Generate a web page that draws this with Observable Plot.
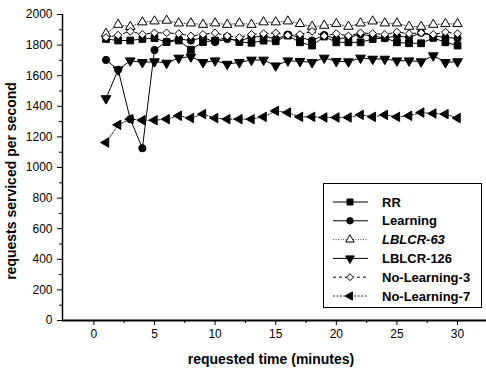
<!DOCTYPE html>
<html><head><meta charset="utf-8">
<script src="https://cdn.jsdelivr.net/npm/d3@7"></script>
<script src="https://cdn.jsdelivr.net/npm/@observablehq/plot@0.6"></script>
<style>
body{margin:0;background:#fff}
svg{font-family:"Liberation Sans",Arial,sans-serif}
</style>
</head><body><div id="chart"></div>
<script>
const minutes = d3.range(1, 31);
const seriesNames = ["RR", "Learning", "LBLCR-63", "LBLCR-126", "No-Learning-3", "No-Learning-7"];
const rr = [1840, 1830, 1830, 1840, 1845, 1820, 1830, 1770, 1820, 1830, 1850, 1820, 1815, 1829, 1825, 1862, 1818, 1797, 1856, 1818, 1818, 1818, 1840, 1847, 1818, 1812, 1812, 1847, 1818, 1797];
const learning = [1703, 1639, 1316, 1126, 1768, 1822, 1840, 1830, 1850, 1820, 1840, 1830, 1850, 1860, 1840, 1869, 1850, 1830, 1866, 1840, 1850, 1870, 1860, 1845, 1860, 1850, 1880, 1860, 1850, 1845];
const lblcr63 = [1875, 1934, 1920, 1950, 1956, 1961, 1943, 1943, 1934, 1943, 1934, 1943, 1934, 1950, 1950, 1956, 1939, 1921, 1928, 1939, 1921, 1943, 1956, 1943, 1943, 1921, 1921, 1934, 1939, 1939];
const lblcr126 = [1451, 1639, 1698, 1687, 1692, 1683, 1716, 1724, 1687, 1698, 1676, 1687, 1703, 1703, 1665, 1698, 1694, 1687, 1716, 1694, 1692, 1716, 1709, 1709, 1698, 1698, 1692, 1731, 1687, 1692];
const noLearning3 = [1850, 1865, 1890, 1870, 1880, 1880, 1875, 1860, 1870, 1880, 1860, 1850, 1870, 1875, 1880, 1865, 1870, 1890, 1860, 1875, 1860, 1880, 1875, 1870, 1885, 1875, 1880, 1870, 1885, 1875];
const noLearning7 = [1163, 1279, 1316, 1309, 1309, 1316, 1338, 1323, 1349, 1323, 1316, 1316, 1316, 1331, 1370, 1359, 1331, 1331, 1327, 1327, 1327, 1344, 1331, 1344, 1331, 1338, 1359, 1353, 1349, 1323];
const xTicks = [0, 5, 10, 15, 20, 25, 30];
const yTicks = d3.range(0, 2001, 200);

const sqrt3 = Math.sqrt(3);
const symbolDown = {draw(ctx, size) {
  const y = -Math.sqrt(size / (sqrt3 * 3));
  ctx.moveTo(0, -y * 2); ctx.lineTo(-sqrt3 * y, y); ctx.lineTo(sqrt3 * y, y); ctx.closePath();
}};
const symbolLeft = {draw(ctx, size) {
  const y = -Math.sqrt(size / (sqrt3 * 3));
  ctx.moveTo(y * 2, 0); ctx.lineTo(-y, -sqrt3 * y); ctx.lineTo(-y, sqrt3 * y); ctx.closePath();
}};

const values = [rr, learning, lblcr63, lblcr126, noLearning3, noLearning7];
const styles = [
  {symbol: d3.symbolSquare, fill: "#000", r: 3.8, dash: null, stroke: "#000"},
  {symbol: d3.symbolCircle, fill: "#000", r: 3.6, dash: null, stroke: "#000"},
  {symbol: d3.symbolTriangle, fill: "#fff", r: 3.5, dash: "1,1.5", stroke: "#444"},
  {symbol: symbolDown, fill: "#000", r: 3.6, dash: null, stroke: "#000"},
  {symbol: d3.symbolDiamond2, fill: "#fff", r: 3.5, dash: "3,3", stroke: "#000"},
  {symbol: symbolLeft, fill: "#000", r: 3.5, dash: "2,1.5", stroke: "#222"}
];
const rows = seriesNames.map((name, i) => minutes.map((t, j) => ({series: name, t, v: values[i][j]})));

const xmin = -2.59, xmax = 32.39;
const lineMarks = rows.map((d, i) => Plot.line(d, {x: "t", y: "v", stroke: styles[i].stroke, strokeWidth: 1, strokeDasharray: styles[i].dash}));
const dotMarks = rows.map((d, i) => Plot.dot(d, {x: "t", y: "v", symbol: () => styles[i].symbol, r: styles[i].r, fill: styles[i].fill, stroke: "#000", strokeWidth: 1}));

const chart = Plot.plot({
  width: 486, height: 368,
  marginLeft: 62, marginRight: 0, marginTop: 14, marginBottom: 48,
  style: {fontFamily: '"Liberation Sans", Arial, sans-serif', fontSize: "12px", background: "#fff", color: "#000"},
  x: {domain: [xmin, xmax]},
  y: {domain: [0, 2000]},
  symbol: {type: "identity"},
  marks: [
    ...lineMarks,
    ...dotMarks,
    Plot.axisX({ticks: xTicks, tickSize: 5, tickPadding: 4, label: null, fontSize: 12, tickFormat: d3.format("d")}),
    Plot.axisX({ticks: d3.range(2.5, 32, 5), tickSize: 3, text: null, label: null}),
    Plot.axisY({ticks: yTicks, tickSize: 5, tickPadding: 5, label: null, fontSize: 12, tickFormat: d3.format("d")}),
    Plot.axisY({ticks: d3.range(100, 2000, 200), tickSize: 3, text: null, label: null}),
    Plot.ruleY([0], {strokeWidth: 2}),
    Plot.ruleX([xmin], {strokeWidth: 1.5})
  ]
});

const svg = d3.select(chart);
svg.append("text").attr("x", 271).attr("y", 359).attr("dy", "0.35em").attr("text-anchor", "middle")
  .attr("font-weight", "bold").attr("font-size", 14).text("requested time (minutes)");
svg.append("text").attr("transform", "translate(11,181) rotate(-90)").attr("dy", "0.35em").attr("text-anchor", "middle")
  .attr("font-weight", "bold").attr("font-size", 14).text("requests serviced per second");

// legend
const lg = svg.append("g").attr("text-anchor", "start");
lg.append("rect").attr("x", 323.5).attr("y", 183.5).attr("width", 158).attr("height", 124)
  .attr("fill", "#fff").attr("stroke", "#000").attr("stroke-width", 1);
seriesNames.forEach((name, i) => {
  const y = 202 + i * 18.8;
  const s = styles[i];
  lg.append("line").attr("x1", 333).attr("x2", 368).attr("y1", y).attr("y2", y)
    .attr("stroke", s.stroke).attr("stroke-width", 1).attr("stroke-dasharray", s.dash);
  lg.append("path").attr("transform", `translate(350,${y})`)
    .attr("d", d3.symbol(s.symbol, s.r * s.r * Math.PI * 0.8)()).attr("fill", s.fill).attr("stroke", "#000");
  lg.append("text").attr("x", 382).attr("y", y).attr("dy", "0.35em").attr("text-anchor", "start")
    .attr("font-weight", "bold").attr("font-size", 13)
    .attr("font-style", i === 2 ? "italic" : null).text(name);
});

document.getElementById("chart").append(chart);
</script>
</body></html>
